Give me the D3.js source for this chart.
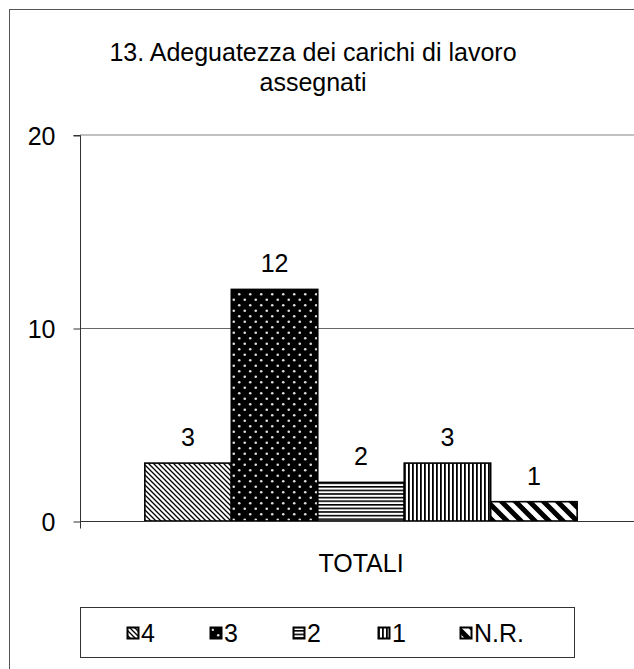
<!DOCTYPE html>
<html>
<head>
<meta charset="utf-8">
<script src="https://cdn.jsdelivr.net/npm/d3@7/dist/d3.min.js"></script>
<style>
  html, body { margin: 0; padding: 0; background: #fff; }
  svg { display: block; font-family: "Liberation Sans", Arial, sans-serif; }
</style>
</head>
<body>
<svg id="chart" width="634" height="669"></svg>
<script>
// Data
const titleLines = ["13. Adeguatezza dei carichi di lavoro", "assegnati"];
const category = "TOTALI";
const seriesNames = ["4", "3", "2", "1", "N.R."];
const seriesValues = [3, 12, 2, 3, 1];
const yTicks = [0, 10, 20];

const FONT = 25;
const svg = d3.select("#chart");
const defs = svg.append("defs");

// Fill patterns, one per series
function pat(id, w, h, build) {
  const p = defs.append("pattern").attr("id", id)
    .attr("patternUnits", "userSpaceOnUse").attr("width", w).attr("height", h);
  build(p);
}
pat("p4", 5, 5, p => {
  p.append("rect").attr("width", 5).attr("height", 5).attr("fill", "#fff");
  p.append("path").attr("d", "M-1,-1L6,6M-1,4L1,6M4,-1L6,1").attr("stroke", "#000").attr("stroke-width", 1.3);
});
pat("p3", 11, 11, p => {
  p.append("rect").attr("width", 11).attr("height", 11).attr("fill", "#000");
  p.append("circle").attr("cx", 2.75).attr("cy", 2.75).attr("r", 1.3).attr("fill", "#ddd");
  p.append("circle").attr("cx", 8.25).attr("cy", 8.25).attr("r", 1.3).attr("fill", "#ddd");
});
pat("p2", 4, 3.6, p => {
  p.append("rect").attr("width", 4).attr("height", 3.6).attr("fill", "#fff");
  p.append("rect").attr("y", 0).attr("width", 4).attr("height", 1.6).attr("fill", "#000");
});
pat("p1", 4, 4, p => {
  p.append("rect").attr("width", 4).attr("height", 4).attr("fill", "#fff");
  p.append("rect").attr("x", 0).attr("width", 1.8).attr("height", 4).attr("fill", "#000");
});
pat("pNR", 14, 14, p => {
  p.append("rect").attr("width", 14).attr("height", 14).attr("fill", "#fff");
  p.append("path").attr("d", "M-3,-3L17,17M-3,11L3,17M11,-3L17,3").attr("stroke", "#000").attr("stroke-width", 5);
});
const patIds = ["p4", "p3", "p2", "p1", "pNR"];

// Outer frame (extends past the right and bottom edges)
svg.append("rect").attr("x", 9.5).attr("y", 9.5).attr("width", 700).attr("height", 700)
  .attr("fill", "none").attr("stroke", "#555").attr("stroke-width", 1);

// Title
svg.append("text").attr("text-anchor", "middle")
  .attr("font-size", FONT).attr("fill", "#000")
  .selectAll("tspan").data(titleLines).join("tspan")
  .attr("x", 313).attr("y", (d, i) => 61 + i * 30).text(d => d);

// Scales
const plotLeft = 80, plotRight = 642;
const y = d3.scaleLinear().domain([0, 20]).range([521, 135]);
const xCat = d3.scaleBand().domain([category]).range([plotLeft, plotRight]).paddingInner(0).paddingOuter(0.15);
const xSeries = d3.scaleBand().domain(seriesNames).range([xCat(category), xCat(category) + xCat.bandwidth()]);

// Gridlines
svg.append("line").attr("x1", plotLeft).attr("x2", 634).attr("y1", y(20)).attr("y2", y(20))
  .attr("stroke", "#c0c0c0").attr("stroke-width", 2);
svg.append("line").attr("x1", plotLeft).attr("x2", 634).attr("y1", Math.round(y(10)) + 0.5).attr("y2", Math.round(y(10)) + 0.5)
  .attr("stroke", "#666").attr("stroke-width", 1);

// Y axis
const yAxis = d3.axisLeft(y).tickValues(yTicks).tickSize(7).tickPadding(18).tickFormat(d3.format("d"));
const gy = svg.append("g").attr("transform", `translate(${plotLeft + 0.5},0.5)`).call(yAxis);
gy.select(".domain").attr("stroke", "#333").attr("d", `M-7,${y(20)}H0V${y(0) + 7}`);
gy.selectAll(".tick line").attr("stroke", "#333");
gy.selectAll(".tick text").attr("font-size", FONT).attr("fill", "#000")
  .attr("font-family", "Liberation Sans, Arial, sans-serif").attr("dy", "0.36em");

// Bars
svg.append("g").selectAll("rect").data(seriesValues).join("rect")
  .attr("x", (d, i) => xSeries(seriesNames[i]))
  .attr("y", d => y(d))
  .attr("width", xSeries.bandwidth())
  .attr("height", d => y(0) - y(d))
  .attr("fill", (d, i) => `url(#${patIds[i]})`)
  .attr("stroke", "#000").attr("stroke-width", 1.6);

// X axis line
svg.append("line").attr("x1", plotLeft).attr("x2", 634).attr("y1", y(0) + 0.5).attr("y2", y(0) + 0.5)
  .attr("stroke", "#333").attr("stroke-width", 1);

// Value labels
svg.append("g").selectAll("text").data(seriesValues).join("text")
  .attr("x", (d, i) => xSeries(seriesNames[i]) + xSeries.bandwidth() / 2)
  .attr("y", d => y(d) - 17)
  .attr("text-anchor", "middle").attr("font-size", FONT).attr("fill", "#000")
  .text(d => d);

// Category label
svg.append("text").attr("x", xCat(category) + xCat.bandwidth() / 2).attr("y", 572)
  .attr("text-anchor", "middle").attr("font-size", FONT).attr("fill", "#000").text(category);

// Legend
const legend = svg.append("g");
legend.append("rect").attr("x", 80.5).attr("y", 607.5).attr("width", 494).attr("height", 50)
  .attr("fill", "none").attr("stroke", "#333").attr("stroke-width", 1);
const legendX = [127, 210, 293, 378, 460];
const items = legend.selectAll("g.item").data(seriesNames).join("g").attr("class", "item")
  .attr("transform", (d, i) => `translate(${legendX[i]},0)`);
items.append("rect").attr("x", 0.5).attr("y", 627.5).attr("width", 11).attr("height", 11)
  .attr("fill", (d, i) => `url(#${patIds[i]})`).attr("stroke", "#000").attr("stroke-width", 2);
items.append("text").attr("x", 14).attr("y", 642).attr("font-size", FONT).attr("fill", "#000").text(d => d);
</script>
</body>
</html>
